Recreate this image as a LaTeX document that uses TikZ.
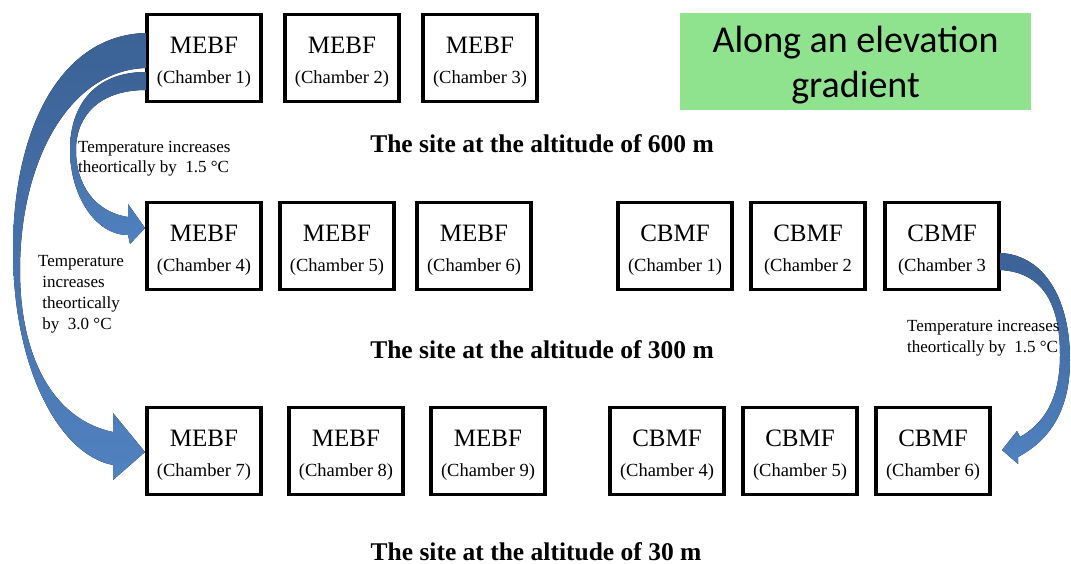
\documentclass[tikz,border=0pt]{standalone}
\usepackage{fontspec}
\setmainfont{Liberation Serif}
\newfontfamily\calibrifont{Carlito}
\definecolor{arrowdark}{RGB}{60,98,150}
\definecolor{arrowlight}{RGB}{80,130,192}
\definecolor{greenbox}{RGB}{144,227,142}
\newcommand\cellbox[5]{%
  \node[cell] (#1) at (#2,#3) {};
  \node[celltext] (#1t) at ([yshift=-4pt]#1.center) {{\fontsize{25}{30}\selectfont #4}\\#5};
}
\begin{document}
\begin{tikzpicture}[x=1pt,y=-1pt,
  cell/.style={draw, line width=3.2pt, minimum width=114pt, minimum height=87pt, inner sep=0pt},
  celltext/.style={align=center, inner sep=0pt, font=\fontsize{18.5}{30}\selectfont},
  note/.style={align=left, inner sep=0pt, anchor=base west, font=\fontsize{17}{20.7}\selectfont},
  title/.style={inner sep=0pt, anchor=base, font=\fontsize{25.5}{30}\selectfont\bfseries},
  bigarrow/.style={top color=arrowdark, bottom color=arrowlight, draw=none}
]
\useasboundingbox (0,0) rectangle (1071,564);

% green label
\node[fill=greenbox, minimum width=351pt, minimum height=97pt, inner sep=0pt] (grad) at (855.5,61.5) {};
\node[align=center, inner sep=0pt, font=\calibrifont\fontsize{38}{45}\selectfont] (gradt) at ([yshift=-4pt]grad.center) {Along an elevation\\gradient};

% row 1
\cellbox{m1}{204}{58}{MEBF}{(Chamber 1)}
\cellbox{m2}{342}{58}{MEBF}{(Chamber 2)}
\cellbox{m3}{480}{58}{MEBF}{(Chamber 3)}
% row 2
\cellbox{m4}{204}{246}{MEBF}{(Chamber 4)}
\cellbox{m5}{337}{246}{MEBF}{(Chamber 5)}
\cellbox{m6}{474}{246}{MEBF}{(Chamber 6)}
\cellbox{c1}{675}{246}{CBMF}{(Chamber 1)}
\cellbox{c2}{808}{246}{CBMF}{(Chamber 2}
\cellbox{c3}{942}{246}{CBMF}{(Chamber 3}
% row 3
\cellbox{m7}{204}{451}{MEBF}{(Chamber 7)}
\cellbox{m8}{346}{451}{MEBF}{(Chamber 8)}
\cellbox{m9}{488}{451}{MEBF}{(Chamber 9)}
\cellbox{c4}{667}{451}{CBMF}{(Chamber 4)}
\cellbox{c5}{800}{451}{CBMF}{(Chamber 5)}
\cellbox{c6}{933}{451}{CBMF}{(Chamber 6)}

% titles
\node[title] (t600) at (542,153) {The site at the altitude of 600 m};
\node[title] (t300) at (542,358) {The site at the altitude of 300 m};
\node[title] (t30) at (536,560) {The site at the altitude of 30 m};

% long arrow m1 -> m7
\fill[bigarrow] (146,33) .. controls (60,35) and (13,130) .. (13,250)
  .. controls (13,370) and (60,455) .. (113,465)
  -- (113,480) -- (145,452) -- (113,413) -- (113,432)
  .. controls (55,420) and (20,360) .. (20,270)
  .. controls (20,160) and (70,70) .. (146,68) -- cycle;
% short arrow m1 -> m4
\fill[bigarrow] (146,72) .. controls (95,72) and (70,105) .. (70,150)
  .. controls (70,195) and (95,235) .. (128,235)
  -- (130,244) -- (145,228) -- (128,204) -- (128,217)
  .. controls (95,212) and (76,185) .. (76,150)
  .. controls (76,115) and (100,90) .. (146,90) -- cycle;
% right arrow c3 -> c6
\fill[bigarrow] (1000,253) .. controls (1045,255) and (1070,300) .. (1070,360)
  .. controls (1070,410) and (1050,440) .. (1018,457)
  -- (1018,464) -- (1002,450) -- (1017,431) -- (1020,437)
  .. controls (1050,420) and (1060,390) .. (1060,355)
  .. controls (1060,300) and (1040,272) .. (1000,270) -- cycle;

% notes (base = baseline of the last line)
\node[note] (n1) at (78,173) {Temperature increases\\theortically by\ \ 1.5 °C};
\node[note] (n2) at (38,329) {Temperature\\\ increases\\\ theortically\\\ by\ \ 3.0 °C};
\node[note] (n3) at (907,352) {Temperature increases\\theortically by\ \ 1.5 °C};
\end{tikzpicture}
\end{document}
